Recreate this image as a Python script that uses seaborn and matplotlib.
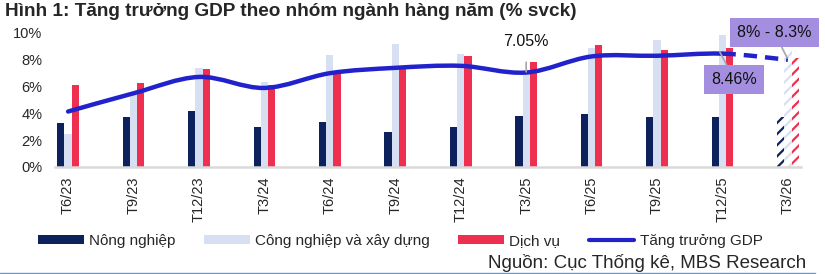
import numpy as np
import pandas as pd
import matplotlib
matplotlib.use("Agg")
import matplotlib.pyplot as plt
import seaborn as sns
from matplotlib.path import Path
from matplotlib.patches import PathPatch, Patch
from matplotlib.lines import Line2D

# ---- data ----
periods = ["T6/23", "T9/23", "T12/23", "T3/24", "T6/24", "T9/24",
           "T12/24", "T3/25", "T6/25", "T9/25", "T12/25", "T3/26"]
nong_nghiep = [3.25, 3.75, 4.18, 3.0, 3.36, 2.59, 3.0, 3.8, 3.98, 3.73, 3.73, 3.73]
cong_nghiep = [2.5, 5.4, 7.4, 6.35, 8.36, 9.2, 8.4, 7.1, 8.88, 9.48, 9.83, 8.7]
dich_vu = [6.1, 6.3, 7.3, 6.1, 7.0, 7.5, 8.28, 7.86, 9.13, 8.73, 8.88, 8.1]
gdp = [4.14, 5.5, 6.72, 5.9, 7.0, 7.4, 7.55, 7.05, 8.25, 8.3, 8.46, 8.0]
series_names = ["Nông nghiệp", "Công nghiệp và xây dựng", "Dịch vụ"]
line_name = "Tăng trưởng GDP"
title = "Hình 1: Tăng trưởng GDP theo nhóm ngành hàng năm (% svck)"
source = "Nguồn: Cục Thống kê, MBS Research"
label_q1 = "7.05%"
label_q4 = "8.46%"
label_fc = "8% - 8.3%"

c_nn = "#0D215C"
c_cn = "#D7E0F2"
c_dv = "#EE2F50"
c_gdp = "#2222CC"
c_box = "#A48EDF"

sns.set_theme(style="white")
plt.rcParams["font.family"] = ["Liberation Sans", "DejaVu Sans"]
plt.rcParams["hatch.linewidth"] = 1.6

df = pd.DataFrame({
    "period": periods * 3,
    "sector": sum([[n] * len(periods) for n in series_names], []),
    "value": nong_nghiep + cong_nghiep + dich_vu,
})

fig = plt.figure(figsize=(8.25, 2.74), dpi=100)
ax = fig.add_axes([55 / 825, 1 - 167 / 274, (801 - 55) / 825, (167 - 33) / 274])

sns.barplot(data=df, x="period", y="value", hue="sector", order=periods,
            hue_order=series_names, palette=[c_nn, c_cn, c_dv], width=0.33,
            dodge=True, legend=False, ax=ax, saturation=1, linewidth=0,
            err_kws={"linewidth": 0})

# hatched forecast bars
cols = [c_nn, c_cn, c_dv]
n = len(periods)
for k, p in enumerate(ax.patches):
    hue_i, cat_i = divmod(k, n)
    if cat_i == n - 1:
        p.set_facecolor("white")
        p.set_edgecolor(cols[hue_i])
        p.set_hatch("///")
        p.set_linewidth(0)

ax.set_xlim(-0.2, n - 1 + 0.2)
ax.set_ylim(0, 10)
ax.set_yticks(np.arange(0, 11, 2))
ax.set_yticklabels([f"{v}%" for v in range(0, 11, 2)], fontsize=10.5)
ax.set_xticks(range(n))
ax.set_xticklabels(periods, rotation=90, fontsize=10.5)
ax.tick_params(axis="y", length=0, pad=9)
ax.tick_params(axis="x", length=0, pad=7)
ax.set_xlabel("")
ax.set_ylabel("")
for s in ["top", "right", "left"]:
    ax.spines[s].set_visible(False)
ax.spines["bottom"].set_color("#D9D9D9")
ax.spines["bottom"].set_linewidth(1.8)


# smooth GDP line (Catmull-Rom rendered as cubic Bezier)
def bezier_path(xs, ys, i0, i1):
    pts = np.column_stack([xs, ys]).astype(float)
    verts = [pts[i0]]
    codes = [Path.MOVETO]
    for i in range(i0, i1):
        p0 = pts[max(i - 1, 0)]
        p1 = pts[i]
        p2 = pts[i + 1]
        p3 = pts[min(i + 2, len(pts) - 1)]
        c1 = p1 + (p2 - p0) / 6.0
        c2 = p2 - (p3 - p1) / 6.0
        verts += [c1, c2, p2]
        codes += [Path.CURVE4] * 3
    return Path(verts, codes)


xs = np.arange(n)
solid = PathPatch(bezier_path(xs, gdp, 0, n - 2), facecolor="none",
                  edgecolor=c_gdp, lw=3.2, capstyle="round", zorder=5)
dashed = PathPatch(bezier_path(xs, gdp, n - 2, n - 1), facecolor="none",
                   edgecolor=c_gdp, lw=3.2, linestyle=(0, (3, 1.8)), zorder=5)
ax.add_patch(solid)
ax.add_patch(dashed)

# annotations
ax.annotate(label_q1, xy=(7, gdp[7] + 0.05), xytext=(7, 9.35), ha="center",
            va="center", fontsize=11.5, color="#111111",
            arrowprops=dict(arrowstyle="-", color="#A6A6A6", lw=1.2,
                            shrinkA=7, shrinkB=0), zorder=6)
ax.annotate(label_q4, xy=(9.96, 8.58), xytext=(10.18, 6.53),
            ha="center", va="center", fontsize=11.5, color="#111111",
            bbox=dict(boxstyle="square,pad=0.45", fc=c_box, ec="none"),
            arrowprops=dict(arrowstyle="-", color="#A6A6A6", lw=1.2,
                            shrinkA=0, shrinkB=0), zorder=6)
ax.annotate(label_fc, xy=(10.99, 8.13), xytext=(10.79, 10.04),
            ha="center", va="center", fontsize=11.5, color="#111111",
            bbox=dict(boxstyle="square,pad=0.45", fc=c_box, ec="none"),
            arrowprops=dict(arrowstyle="-", color="#A6A6A6", lw=1.2,
                            shrinkA=0, shrinkB=0), zorder=6, annotation_clip=False)

# legend
handles = [Patch(facecolor=c_nn, edgecolor="none"),
           Patch(facecolor=c_cn, edgecolor="none"),
           Patch(facecolor=c_dv, edgecolor="none"),
           Line2D([0], [0], color=c_gdp, lw=3)]
fig.legend(handles, series_names + [line_name], loc="center left",
           bbox_to_anchor=(32 / 825, 1 - 241 / 274), ncol=4, frameon=False,
           fontsize=11, handlelength=3.0, handleheight=0.6,
           handletextpad=0.35, columnspacing=1.85, borderaxespad=0)

fig.text(5 / 825, 1 - 11 / 274, title, fontsize=13.7, fontweight="bold",
         color="#262626", ha="left", va="center")
fig.text(806 / 825, 1 - 263 / 274, source, fontsize=13.5, color="#262626",
         ha="right", va="center")
fig.add_artist(Line2D([0, 815 / 825], [1 - 272.5 / 274] * 2,
                      color="#5B9BD5", lw=1.0, transform=fig.transFigure))

fig.savefig("out.png", dpi=100)
